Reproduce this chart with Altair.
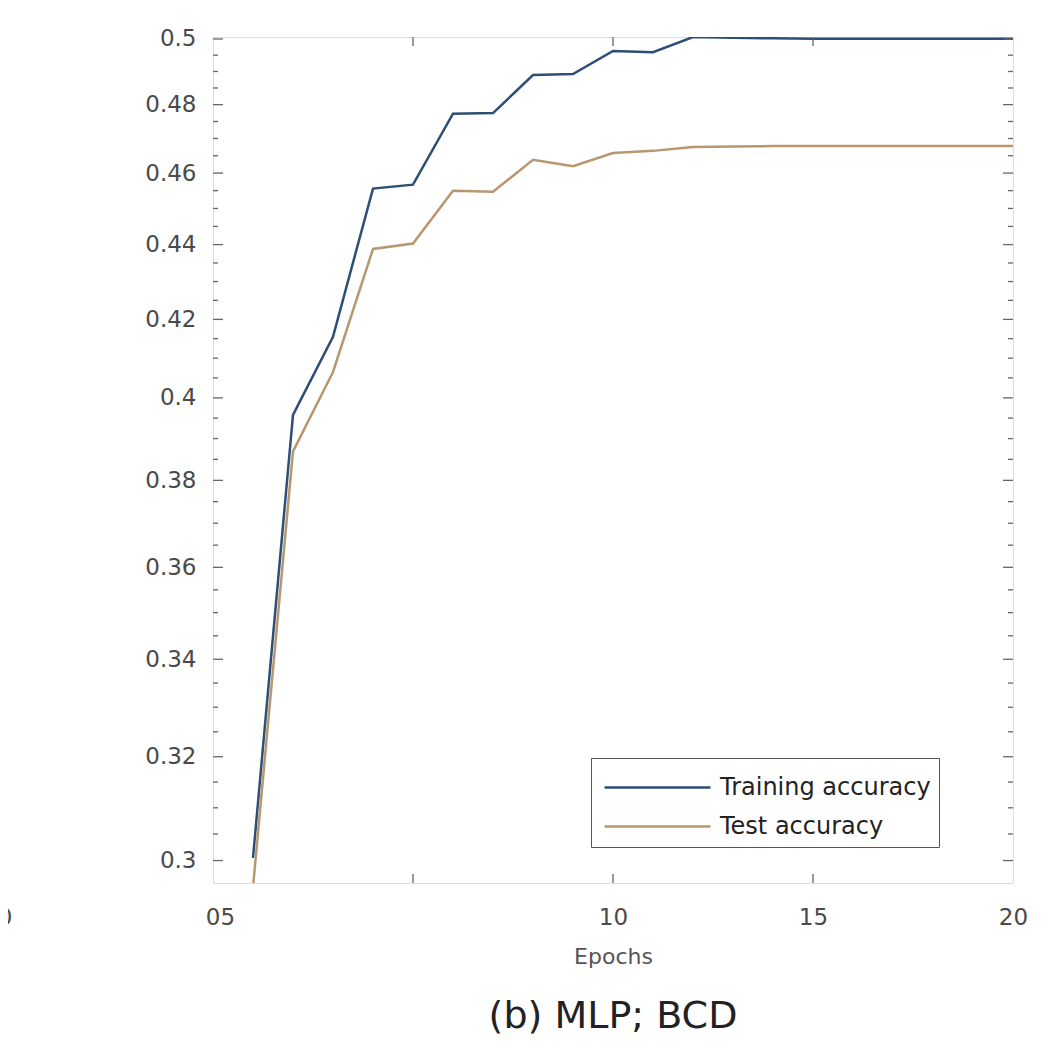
import altair as alt
import pandas as pd

# ---- data ----
epochs = list(range(1, 21))
train_acc = [0.3005, 0.3958, 0.4155, 0.4556, 0.4567, 0.4773, 0.4775, 0.4889, 0.4892, 0.4963,
             0.4959, 0.5006, 0.5004, 0.5002, 0.5001, 0.5001, 0.5001, 0.5001, 0.5001, 0.5001]
test_acc = [0.2950, 0.3869, 0.4065, 0.4388, 0.4403, 0.4550, 0.4547, 0.4638, 0.4620, 0.4658,
            0.4664, 0.4675, 0.4677, 0.4678, 0.4678, 0.4678, 0.4678, 0.4678, 0.4678, 0.4678]
series_names = ["Training accuracy", "Test accuracy"]
series_colors = ["#2D4E76", "#B8976F"]

y_major = [0.3, 0.32, 0.34, 0.36, 0.38, 0.4, 0.42, 0.44, 0.46, 0.48, 0.5]
y_minor = [0.305, 0.31, 0.315, 0.325, 0.33, 0.335, 0.345, 0.35, 0.355, 0.365, 0.37, 0.375,
           0.385, 0.39, 0.395, 0.405, 0.41, 0.415, 0.425, 0.43, 0.435, 0.445, 0.45, 0.455,
           0.465, 0.47, 0.475, 0.485, 0.49, 0.495]
x_tick_values = [0, 5, 10, 15, 20]
x_inner_ticks = [5, 10, 15]
first_x_label = "05"
stray_label_x = [-5.2]
stray_label_text = ["0"]

W, H = 800, 846
FONT = "DejaVu Sans"

df = pd.DataFrame({
    "epoch": epochs * 2,
    "acc": train_acc + test_acc,
    "series": [series_names[0]] * len(epochs) + [series_names[1]] * len(epochs),
})

xscale = alt.Scale(domain=[0, 20], nice=False, zero=False)
yscale = alt.Scale(type="log", domain=[0.29584, 0.50062], nice=False)

xaxis = alt.Axis(values=x_tick_values, title="Epochs", grid=False, domain=False,
                 tickSize=0, labelPadding=23, labelFontSize=23, labelColor="#4a4a4a",
                 labelFont=FONT, titleFont=FONT, titleFontSize=22, titleFontWeight="normal",
                 titleColor="#555555", titlePadding=17, labelFlush=False,
                 labelOffset={"condition": {"test": "datum.value == 0", "value": 7}, "value": 0},
                 labelExpr="datum.value == 0 ? '" + first_x_label + "' : (datum.value == 5 ? '' : datum.label)")
yaxis = alt.Axis(values=y_major, format="~g", title=None, grid=False, domain=False,
                 tickSize=0, labelPadding=17, labelFontSize=23, labelColor="#4a4a4a",
                 labelFont=FONT)

lines = alt.Chart(df).mark_line(strokeWidth=2.5, clip=True).encode(
    x=alt.X("epoch:Q", scale=xscale, axis=xaxis, title="Epochs"),
    y=alt.Y("acc:Q", scale=yscale, axis=yaxis, title=None),
    color=alt.Color("series:N",
                    scale=alt.Scale(domain=series_names, range=series_colors),
                    legend=alt.Legend(title=None, orient="none", legendX=378, legendY=721,
                                      symbolType="M-2.65,0H2.65", symbolSize=1600,
                                      symbolStrokeWidth=2.5, symbolOffset=37,
                                      symbolFillColor="transparent",
                                      labelFontSize=24, labelFont=FONT, labelColor="#222222",
                                      labelOffset=41, labelLimit=0, padding=8, rowPadding=5,
                                      strokeColor="#555555", fillColor="white")),
)

ymaj_df = pd.DataFrame({"v": y_major})
ymin_df = pd.DataFrame({"v": y_minor})
xt_df = pd.DataFrame({"e": x_inner_ticks})

tick_color = "#666666"

def yrule(d, x0, x1):
    return alt.Chart(d).mark_rule(color=tick_color, strokeWidth=1.3).encode(
        y=alt.Y("v:Q", scale=yscale, axis=yaxis, title=None), x=alt.value(x0), x2=alt.value(x1))

def xrule(y0, y1):
    return alt.Chart(xt_df).mark_rule(color=tick_color, strokeWidth=1.3).encode(
        x=alt.X("e:Q", scale=xscale, axis=xaxis, title="Epochs"), y=alt.value(y0), y2=alt.value(y1))

ticks = [
    yrule(ymaj_df, 0, 10), yrule(ymin_df, 0, 5),
    yrule(ymaj_df, W - 10, W), yrule(ymin_df, W - 5, W),
    xrule(H, H - 9), xrule(0, 9),
]

stray = alt.Chart(pd.DataFrame({"e": stray_label_x, "t": stray_label_text})).mark_text(
    fontSize=23, font=FONT, color="#4a4a4a", baseline="middle", align="center"
).encode(x=alt.X("e:Q", scale=xscale, axis=xaxis, title="Epochs"), y=alt.value(H + 35), text="t:N")

chart = alt.layer(lines, *ticks, stray).properties(
    width=W, height=H,
    title=alt.TitleParams("(b) MLP; BCD", orient="bottom", anchor="middle", fontSize=38,
                          font=FONT, fontWeight="normal", color="#222222", offset=31),
    autosize=alt.AutoSizeParams(type="none"),
    padding={"left": 205, "top": 29, "right": 42, "bottom": 156},
).configure_view(stroke="#777777", strokeWidth=1.5).configure(background="white")

chart.save("out.html", embed_options={"renderer": "svg", "actions": False})
